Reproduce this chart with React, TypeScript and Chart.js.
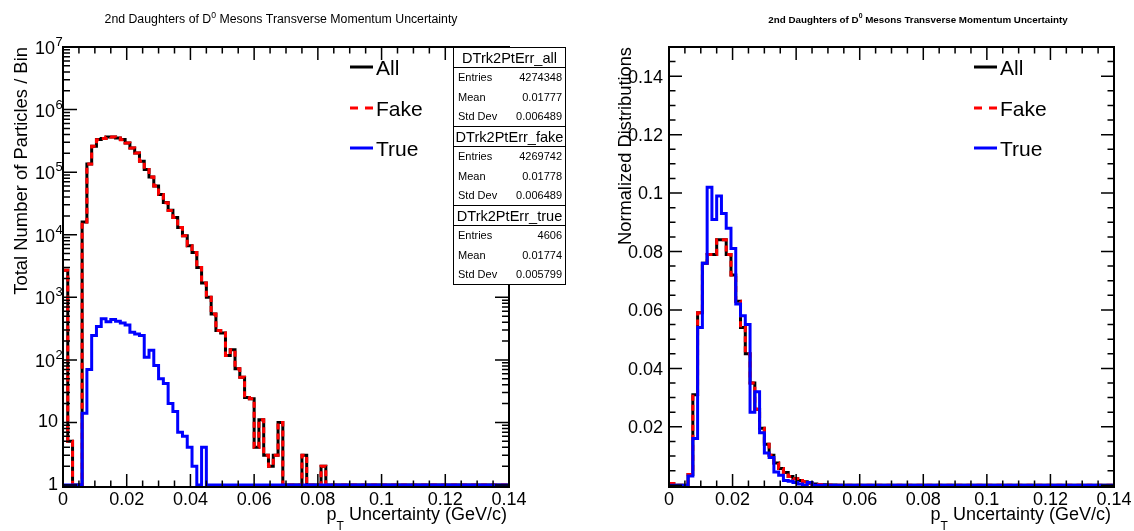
import React, { useEffect, useRef } from "react";
import { Chart, registerables } from "chart.js";

Chart.register(...registerables);

// ---------------- data ----------------
const BIN_WIDTH = 0.0015; // histogram bin width (GeV/c), bin k = [k*w, (k+1)*w)
const X_MIN = 0;
const X_MAX = 0.14;
const X_MINOR_STEP = 0.005;
const X_MAJOR_EVERY = 4;
const X_TICKS = [0, 0.02, 0.04, 0.06, 0.08, 0.1, 0.12, 0.14];
const X_TICK_LABELS = ["0", "0.02", "0.04", "0.06", "0.08", "0.1", "0.12", "0.14"];

const LOG_MIN = 0.93;
const LOG_MAX = 1e7;
const LOG_TICKS = [1, 10, 100, 1000, 10000, 100000, 1000000, 10000000];
const LOG_EXPONENTS = ["", "", "2", "3", "4", "5", "6", "7"];
const LOG_BASES = ["1", "10", "10", "10", "10", "10", "10", "10"];

const NORM_MIN = -0.0006;
const NORM_MAX = 0.15;
const NORM_MINOR_STEP = 0.005;
const NORM_TICKS = [0.02, 0.04, 0.06, 0.08, 0.1, 0.12, 0.14];
const NORM_TICK_LABELS = ["0.02", "0.04", "0.06", "0.08", "0.1", "0.12", "0.14"];

const SERIES_NAMES = ["All", "Fake", "True"];
const SERIES_COLORS = ["#000000", "#ff0000", "#0000ff"];

const TITLE_BEFORE = "2nd Daughters of D";
const TITLE_SUP = "0";
const TITLE_AFTER = " Mesons Transverse Momentum Uncertainty";
const X_TITLE_MAIN = "p";
const X_TITLE_SUB = "T";
const X_TITLE_REST = " Uncertainty (GeV/c)";
const LEFT_Y_TITLE = "Total Number of Particles / Bin";
const RIGHT_Y_TITLE = "Normalized Distributions";

const STAT_NAMES = ["DTrk2PtErr_all", "DTrk2PtErr_fake", "DTrk2PtErr_true"];
const STAT_ENTRIES = ["4274348", "4269742", "4606"];
const STAT_MEANS = ["0.01777", "0.01778", "0.01774"];
const STAT_STDDEVS = ["0.006489", "0.006489", "0.005799"];
const STAT_ROW_LABELS = ["Entries", "Mean", "Std Dev"];

// left panel: counts per bin
const allCounts = [
  2700, 5, 1, 1, 16000, 135000, 259000, 331000, 344000, 366000,
  366000, 352000, 331000, 293000, 244000, 203000, 150000, 110000, 84000, 60000,
  44000, 32600, 24500, 18800, 13000, 9600, 6650, 5200, 3000, 1700,
  1000, 540, 295, 270, 118, 145, 72, 53, 25, 24,
  4, 11, 3, 2, 3, 10, 1, 1, 0, 0,
  3, 0, 1, 1, 2, 0, 0, 0, 0, 0,
  0, 0, 0, 0, 0, 0, 0, 0, 0, 0,
  0, 0, 0, 0, 0, 0, 0, 0, 0, 0,
  0, 0, 0, 0, 0, 0, 0, 0, 0, 0,
  0, 0, 0, 0,
];
const fakeCounts = [
  2700, 5, 1, 1, 15990, 134930, 258755, 330660, 343545, 365595,
  365560, 351585, 330610, 292640, 243723, 202740, 149755, 109890, 83858, 59919,
  43950, 32558, 24480, 18785, 12993, 9594, 6646, 5198, 3000, 1696,
  1000, 540, 295, 270, 118, 145, 72, 53, 25, 24,
  4, 11, 3, 2, 3, 10, 1, 1, 0, 0,
  3, 0, 1, 1, 2, 0, 0, 0, 0, 0,
  0, 0, 0, 0, 0, 0, 0, 0, 0, 0,
  0, 0, 0, 0, 0, 0, 0, 0, 0, 0,
  0, 0, 0, 0, 0, 0, 0, 0, 0, 0,
  0, 0, 0, 0,
];
const trueCounts = [
  0, 0, 0, 0, 14, 70, 245, 340, 455, 405,
  440, 415, 390, 360, 277, 260, 245, 110, 142, 81,
  50, 42, 20, 15, 7, 6, 4, 2, 0, 4,
  0, 0, 0, 0, 0, 0, 0, 0, 0, 0,
  0, 0, 0, 0, 0, 0, 0, 0, 0, 0,
  0, 0, 0, 0, 0, 0, 0, 0, 0, 0,
  0, 0, 0, 0, 0, 0, 0, 0, 0, 0,
  0, 0, 0, 0, 0, 0, 0, 0, 0, 0,
  0, 0, 0, 0, 0, 0, 0, 0, 0, 0,
  0, 0, 0, 0,
];

// right panel: normalized fractions per bin
const normAll = [
  0.0006, 0, 0, 0, 0.0037, 0.031, 0.059, 0.076, 0.079, 0.079,
  0.084, 0.084, 0.079, 0.072, 0.063, 0.054, 0.045, 0.035, 0.026, 0.0195,
  0.014, 0.0103, 0.0076, 0.0057, 0.0044, 0.003, 0.0022, 0.0016, 0.0012, 0.0007,
  0.0004, 0.00025, 0.00013, 0.00007, 0.00006, 0.00003, 0.00003, 0.00002, 0.00001, 0.00001,
  0, 0, 0, 0, 0, 0, 0, 0, 0, 0,
  0, 0, 0, 0, 0, 0, 0, 0, 0, 0,
  0, 0, 0, 0, 0, 0, 0, 0, 0, 0,
  0, 0, 0, 0, 0, 0, 0, 0, 0, 0,
  0, 0, 0, 0, 0, 0, 0, 0, 0, 0,
  0, 0, 0, 0,
];
const normFake = [
  0.0006, 0, 0, 0, 0.0037, 0.031, 0.059, 0.076, 0.079, 0.079,
  0.084, 0.084, 0.079, 0.072, 0.063, 0.054, 0.045, 0.035, 0.026, 0.0195,
  0.014, 0.0103, 0.0076, 0.0057, 0.0044, 0.003, 0.0022, 0.0016, 0.0012, 0.0007,
  0.0004, 0.00025, 0.00013, 0.00007, 0.00006, 0.00003, 0.00003, 0.00002, 0.00001, 0.00001,
  0, 0, 0, 0, 0, 0, 0, 0, 0, 0,
  0, 0, 0, 0, 0, 0, 0, 0, 0, 0,
  0, 0, 0, 0, 0, 0, 0, 0, 0, 0,
  0, 0, 0, 0, 0, 0, 0, 0, 0, 0,
  0, 0, 0, 0, 0, 0, 0, 0, 0, 0,
  0, 0, 0, 0,
];
const normTrue = [
  0, 0, 0, 0, 0.0032, 0.016, 0.054, 0.076, 0.102, 0.091,
  0.099, 0.093, 0.088, 0.081, 0.062, 0.058, 0.055, 0.025, 0.032, 0.018,
  0.011, 0.0095, 0.0045, 0.0034, 0.0016, 0.0014, 0.0009, 0.00045, 0, 0.0009,
  0, 0, 0, 0, 0, 0, 0, 0, 0, 0,
  0, 0, 0, 0, 0, 0, 0, 0, 0, 0,
  0, 0, 0, 0, 0, 0, 0, 0, 0, 0,
  0, 0, 0, 0, 0, 0, 0, 0, 0, 0,
  0, 0, 0, 0, 0, 0, 0, 0, 0, 0,
  0, 0, 0, 0, 0, 0, 0, 0, 0, 0,
  0, 0, 0, 0,
];

// ---------------- helpers ----------------
const FONT = '"Liberation Sans", Arial, Helvetica, sans-serif';
const fnt = (size: number, bold = false) => `${bold ? "bold " : ""}${size}px ${FONT}`;

function histPoints(values: number[], floor: number) {
  const pts = values.map((v, k) => ({ x: k * BIN_WIDTH, y: Math.max(v, floor) }));
  pts.push({ x: values.length * BIN_WIDTH, y: Math.max(values[values.length - 1], floor) });
  return pts;
}

function drawTitle(ctx: CanvasRenderingContext2D, cx: number, cy: number, width: number, bold: boolean) {
  const probe = 12;
  ctx.font = fnt(probe, bold);
  const w1 = ctx.measureText(TITLE_BEFORE).width;
  const w3 = ctx.measureText(TITLE_AFTER).width;
  ctx.font = fnt(probe * 0.7, bold);
  const w2 = ctx.measureText(TITLE_SUP).width;
  const size = (probe * width) / (w1 + w2 + w3);
  ctx.font = fnt(size, bold);
  const a1 = ctx.measureText(TITLE_BEFORE).width;
  const a3 = ctx.measureText(TITLE_AFTER).width;
  ctx.font = fnt(size * 0.7, bold);
  const a2 = ctx.measureText(TITLE_SUP).width;
  let x = cx - (a1 + a2 + a3) / 2;
  const base = cy + size * 0.36;
  ctx.textAlign = "left";
  ctx.textBaseline = "alphabetic";
  ctx.fillStyle = "#000";
  ctx.font = fnt(size, bold);
  ctx.fillText(TITLE_BEFORE, x, base);
  x += a1;
  ctx.font = fnt(size * 0.7, bold);
  ctx.fillText(TITLE_SUP, x, base - size * 0.45);
  x += a2;
  ctx.font = fnt(size, bold);
  ctx.fillText(TITLE_AFTER, x, base);
}

function drawYTitle(ctx: CanvasRenderingContext2D, text: string, baseX: number, endY: number, len: number) {
  ctx.font = fnt(12);
  const w = ctx.measureText(text).width;
  const size = (12 * len) / w;
  ctx.save();
  ctx.translate(baseX, endY);
  ctx.rotate(-Math.PI / 2);
  ctx.font = fnt(size);
  ctx.textAlign = "right";
  ctx.textBaseline = "alphabetic";
  ctx.fillStyle = "#000";
  ctx.fillText(text, 0, 0);
  ctx.restore();
}

function drawXTitle(ctx: CanvasRenderingContext2D, right: number) {
  const size = 18;
  const sub = 12;
  ctx.font = fnt(size);
  const wp = ctx.measureText(X_TITLE_MAIN).width;
  const wr = ctx.measureText(X_TITLE_REST).width;
  ctx.font = fnt(sub);
  const wt = ctx.measureText(X_TITLE_SUB).width;
  let x = right - (wp + wt + wr);
  ctx.textAlign = "left";
  ctx.textBaseline = "alphabetic";
  ctx.fillStyle = "#000";
  ctx.font = fnt(size);
  ctx.fillText(X_TITLE_MAIN, x, 520);
  x += wp;
  ctx.font = fnt(sub);
  ctx.fillText(X_TITLE_SUB, x, 530);
  x += wt;
  ctx.font = fnt(size);
  ctx.fillText(X_TITLE_REST, x, 520);
}

function drawLegend(ctx: CanvasRenderingContext2D, lx: number) {
  const rows = [67, 108, 148];
  SERIES_NAMES.forEach((name, i) => {
    const y = rows[i];
    ctx.save();
    ctx.strokeStyle = SERIES_COLORS[i];
    ctx.lineWidth = 3;
    ctx.lineCap = "butt";
    ctx.setLineDash(i === 1 ? [8, 7] : []);
    ctx.beginPath();
    ctx.moveTo(lx, y);
    ctx.lineTo(lx + 23, y);
    ctx.stroke();
    ctx.restore();
    ctx.font = fnt(21);
    ctx.textAlign = "left";
    ctx.textBaseline = "alphabetic";
    ctx.fillStyle = "#000";
    ctx.fillText(name, lx + 26, y + 7.5);
  });
}

function drawStats(ctx: CanvasRenderingContext2D) {
  const x0 = 453;
  const x1 = 566;
  const boxH = 79;
  const headH = 20;
  const rowH = (boxH - headH) / 3;
  ctx.font = fnt(12);
  const headW = ctx.measureText(STAT_NAMES[1]).width;
  const headSize = (12 * 108) / headW;
  STAT_NAMES.forEach((name, b) => {
    const y0 = 47 + b * boxH;
    ctx.fillStyle = "#fff";
    ctx.fillRect(x0, y0, x1 - x0, boxH);
    ctx.strokeStyle = "#000";
    ctx.lineWidth = 1;
    ctx.strokeRect(x0 + 0.5, y0 + 0.5, x1 - x0 - 1, boxH);
    ctx.beginPath();
    ctx.moveTo(x0, y0 + headH + 0.5);
    ctx.lineTo(x1, y0 + headH + 0.5);
    ctx.stroke();
    ctx.fillStyle = "#000";
    ctx.font = fnt(headSize);
    ctx.textAlign = "center";
    ctx.textBaseline = "alphabetic";
    ctx.fillText(name, (x0 + x1) / 2, y0 + headH / 2 + headSize * 0.36 + 0.5);
    const vals = [STAT_ENTRIES[b], STAT_MEANS[b], STAT_STDDEVS[b]];
    ctx.font = fnt(11);
    STAT_ROW_LABELS.forEach((lab, r) => {
      const cy = y0 + headH + rowH * (r + 0.5);
      ctx.textAlign = "left";
      ctx.fillText(lab, x0 + 5, cy + 4);
      ctx.textAlign = "right";
      ctx.fillText(vals[r], x1 - 4, cy + 4);
    });
  });
}

interface PanelCfg {
  kind: "log" | "norm";
  all: number[];
  fake: number[];
  tru: number[];
  yTitle: string;
  yTitleX: number;
  yTitleLen: number;
  titleCx: number;
  titleW: number;
  titleBold: boolean;
  legendX: number;
  xTitleRight: number;
  stats: boolean;
  yAxisWidth: number;
  padRight: number;
}

function makeOverlay(cfg: PanelCfg) {
  return {
    id: "rootOverlay",
    afterDraw(chart: any) {
      const ctx: CanvasRenderingContext2D = chart.ctx;
      const a = chart.chartArea;
      const xs = chart.scales.x;
      const ys = chart.scales.y;
      ctx.save();
      // frame
      ctx.strokeStyle = "#000";
      ctx.lineWidth = 2;
      ctx.strokeRect(a.left, a.top, a.right - a.left, a.bottom - a.top);
      // x ticks
      ctx.lineWidth = 1.5;
      ctx.beginPath();
      const nx = Math.round((X_MAX - X_MIN) / X_MINOR_STEP);
      for (let i = 0; i <= nx; i++) {
        const px = xs.getPixelForValue(X_MIN + i * X_MINOR_STEP);
        const len = i % X_MAJOR_EVERY === 0 ? 13 : 6.5;
        ctx.moveTo(px, a.bottom);
        ctx.lineTo(px, a.bottom - len);
        ctx.moveTo(px, a.top);
        ctx.lineTo(px, a.top + len);
      }
      // y ticks
      if (cfg.kind === "log") {
        for (let d = 0; d < 7; d++) {
          for (let m = 1; m <= 9; m++) {
            const py = ys.getPixelForValue(m * Math.pow(10, d));
            const len = m === 1 ? 14 : 7;
            ctx.moveTo(a.left, py);
            ctx.lineTo(a.left + len, py);
            ctx.moveTo(a.right, py);
            ctx.lineTo(a.right - len, py);
          }
        }
      } else {
        const ny = Math.round(0.15 / NORM_MINOR_STEP);
        for (let i = 0; i < ny; i++) {
          const py = ys.getPixelForValue(i * NORM_MINOR_STEP);
          const len = i % 4 === 0 ? 13 : 6.5;
          ctx.moveTo(a.left, py);
          ctx.lineTo(a.left + len, py);
          ctx.moveTo(a.right, py);
          ctx.lineTo(a.right - len, py);
        }
      }
      ctx.stroke();

      // x labels
      ctx.fillStyle = "#000";
      ctx.font = fnt(18);
      ctx.textAlign = "center";
      ctx.textBaseline = "alphabetic";
      X_TICKS.forEach((v, i) => {
        ctx.fillText(X_TICK_LABELS[i], xs.getPixelForValue(v), 505);
      });

      // y labels
      if (cfg.kind === "log") {
        LOG_TICKS.forEach((v, i) => {
          const py = ys.getPixelForValue(v);
          if (!LOG_EXPONENTS[i]) {
            ctx.font = fnt(18);
            ctx.textAlign = "right";
            ctx.fillText(LOG_BASES[i], a.left - 5, py + 5);
          } else {
            ctx.font = fnt(18);
            ctx.textAlign = "right";
            ctx.fillText(LOG_BASES[i], a.left - 8, py + 7);
            ctx.font = fnt(13);
            ctx.textAlign = "left";
            ctx.fillText(LOG_EXPONENTS[i], a.left - 7.5, py - 1);
          }
        });
      } else {
        ctx.font = fnt(18);
        ctx.textAlign = "right";
        NORM_TICKS.forEach((v, i) => {
          ctx.fillText(NORM_TICK_LABELS[i], a.left - 6, ys.getPixelForValue(v) + 6.4);
        });
      }

      drawXTitle(ctx, cfg.xTitleRight);
      drawYTitle(ctx, cfg.yTitle, cfg.yTitleX, a.top, cfg.yTitleLen);
      drawTitle(ctx, cfg.titleCx, 19, cfg.titleW, cfg.titleBold);
      drawLegend(ctx, cfg.legendX);
      if (cfg.stats) drawStats(ctx);
      ctx.restore();
    },
  };
}

const LEFT_CFG: PanelCfg = {
  kind: "log",
  all: allCounts,
  fake: fakeCounts,
  tru: trueCounts,
  yTitle: LEFT_Y_TITLE,
  yTitleX: 27,
  yTitleLen: 248,
  titleCx: 281,
  titleW: 353,
  titleBold: false,
  legendX: 350,
  xTitleRight: 507,
  stats: true,
  yAxisWidth: 63,
  padRight: 58,
};

const RIGHT_CFG: PanelCfg = {
  kind: "norm",
  all: normAll,
  fake: normFake,
  tru: normTrue,
  yTitle: RIGHT_Y_TITLE,
  yTitleX: 64,
  yTitleLen: 198,
  titleCx: 351,
  titleW: 300,
  titleBold: true,
  legendX: 407,
  xTitleRight: 544,
  stats: false,
  yAxisWidth: 102,
  padRight: 20,
};

function Panel({ cfg }: { cfg: PanelCfg }) {
  const ref = useRef<HTMLCanvasElement>(null);
  useEffect(() => {
    const floor = cfg.kind === "log" ? 1 : 0;
    const base = {
      pointRadius: 0,
      borderWidth: 3,
      stepped: "before" as const,
      fill: false,
      borderJoinStyle: "miter" as const,
      borderCapStyle: "butt" as const,
      tension: 0,
    };
    const chart = new Chart(ref.current as HTMLCanvasElement, {
      type: "line",
      data: {
        datasets: [
          { ...base, label: SERIES_NAMES[0], data: histPoints(cfg.all, floor), borderColor: SERIES_COLORS[0], order: 2 },
          { ...base, label: SERIES_NAMES[1], data: histPoints(cfg.fake, floor), borderColor: SERIES_COLORS[1], borderDash: [6, 4], order: 1 },
          { ...base, label: SERIES_NAMES[2], data: histPoints(cfg.tru, floor), borderColor: SERIES_COLORS[2], order: 0 },
        ],
      },
      options: {
        responsive: false,
        maintainAspectRatio: false,
        animation: false,
        devicePixelRatio: 1,
        parsing: false,
        events: [],
        layout: { padding: { top: 47, right: cfg.padRight, left: 0, bottom: 0 } },
        plugins: {
          legend: { display: false },
          tooltip: { enabled: false },
          title: { display: false },
        },
        scales: {
          x: {
            type: "linear",
            min: X_MIN,
            max: X_MAX,
            ticks: { display: false },
            grid: { display: false, drawTicks: false },
            border: { display: false },
            afterFit: (s: any) => {
              s.height = 44;
            },
          },
          y:
            cfg.kind === "log"
              ? {
                  type: "logarithmic",
                  min: LOG_MIN,
                  max: LOG_MAX,
                  ticks: { display: false },
                  grid: { display: false, drawTicks: false },
                  border: { display: false },
                  afterFit: (s: any) => {
                    s.width = cfg.yAxisWidth;
                  },
                }
              : {
                  type: "linear",
                  min: NORM_MIN,
                  max: NORM_MAX,
                  ticks: { display: false },
                  grid: { display: false, drawTicks: false },
                  border: { display: false },
                  afterFit: (s: any) => {
                    s.width = cfg.yAxisWidth;
                  },
                },
        },
      } as any,
      plugins: [makeOverlay(cfg)],
    });
    return () => chart.destroy();
  }, [cfg]);
  return <canvas ref={ref} width={567} height={531} style={{ display: "block", width: 567, height: 531 }} />;
}

export default function App() {
  return (
    <div
      style={{
        position: "fixed",
        left: 0,
        top: 0,
        width: 1134,
        height: 531,
        background: "#ffffff",
        display: "flex",
        overflow: "hidden",
      }}
    >
      <Panel cfg={LEFT_CFG} />
      <Panel cfg={RIGHT_CFG} />
    </div>
  );
}
